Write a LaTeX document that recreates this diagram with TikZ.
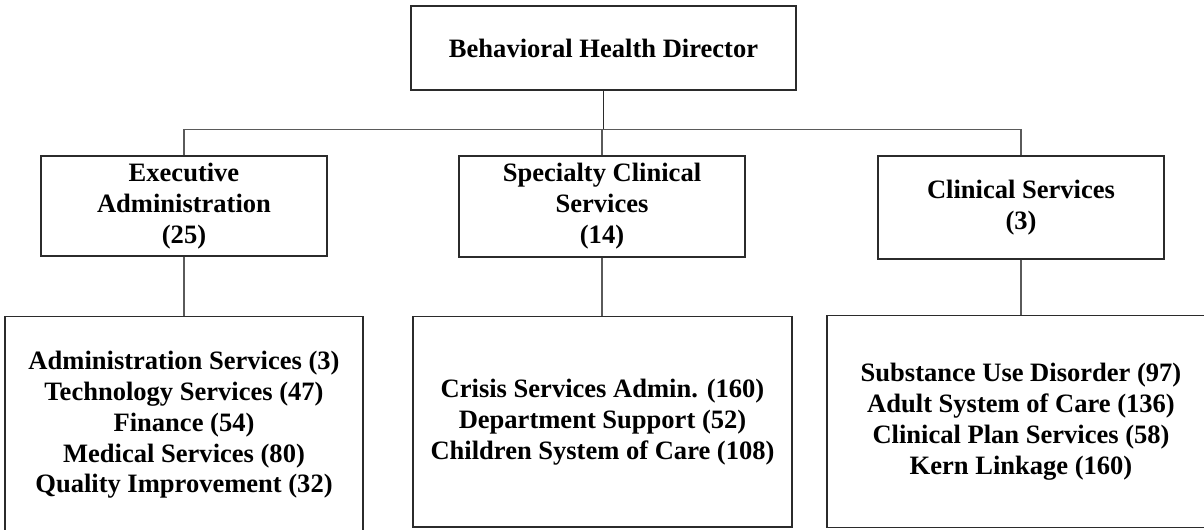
\documentclass[tikz,border=0pt]{standalone}
\usepackage{fontspec}
\setmainfont{Liberation Serif}
\usetikzlibrary{calc}
\definecolor{boxline}{HTML}{2B2B2B}
\definecolor{linkline}{HTML}{5A5A5A}

\begin{document}
\begin{tikzpicture}[
  font=\bfseries\fontsize{15.1}{17.6}\selectfont,
  unit/.style={draw=boxline,line width=0.6pt,align=center,inner sep=0pt},
  link/.style={draw=linkline,line width=0.6pt},
]
\useasboundingbox (0,0) rectangle (24.08,-10.58);

% ---------- TOP: the director ----------
\node[unit,minimum width=7.7cm,minimum height=1.68cm] (director) at (12.07,-0.96)
      {Behavioral Health Director};

% ---------- MIDDLE: the three divisions ----------
\node[unit,minimum width=5.72cm,minimum height=2.0cm] (exec) at (3.68,-4.12)
      {Executive\\Administration\\(25)};
\node[unit,minimum width=5.72cm,minimum height=2.02cm] (special) at (12.04,-4.13)
      {Specialty Clinical\\Services\\(14)};
\node[unit,minimum width=5.72cm,minimum height=2.06cm] (clinical) at (20.42,-4.15)
      {Clinical Services\\(3)};

% ---------- BOTTOM: the units of each division ----------
\node[unit,minimum width=7.16cm,minimum height=4.33cm] (execlist) at (3.68,-8.495)
      {Administration Services (3)\\Technology Services (47)\\Finance (54)\\
       Medical Services (80)\\Quality Improvement (32)};
\node[unit,minimum width=7.58cm,minimum height=4.21cm] (speclist) at (12.05,-8.435)
      {Crisis Services Admin. (160)\\Department Support (52)\\Children System of Care (108)};
\node[unit,minimum width=7.76cm,minimum height=4.24cm] (clinlist) at (20.42,-8.43)
      {Substance Use Disorder (97)\\Adult System of Care (136)\\
       Clinical Plan Services (58)\\Kern Linkage (160)};

% ---------- connectors ----------
\draw[link,draw=boxline] (director.south) -- ++(0,-0.78) coordinate (bus);
\draw[link] (bus) -| (exec.north);
\draw[link] (bus) -| (clinical.north);
\draw[link] (special.north) -- (special.north |- bus);
\draw[link] (exec.south) -- (execlist.north);
\draw[link] (special.south) -- (special.south |- speclist.north);
\draw[link] (clinical.south) -- (clinlist.north);

\end{tikzpicture}
\end{document}
